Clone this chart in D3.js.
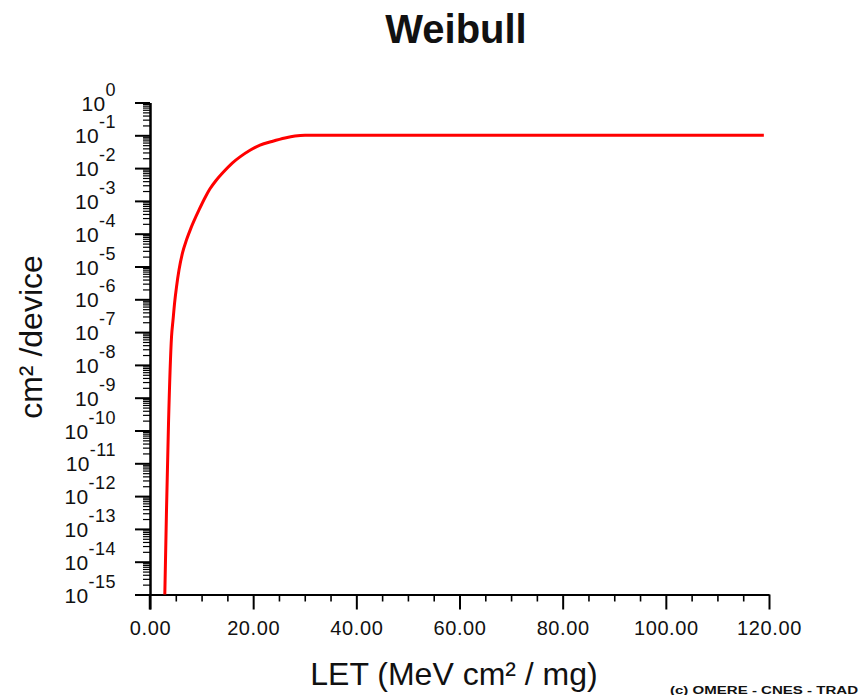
<!DOCTYPE html>
<html>
<head>
<meta charset="utf-8">
<script src="https://cdn.jsdelivr.net/npm/d3@7"></script>
<style>
  html, body { margin: 0; padding: 0; background: #fff; }
  svg { display: block; }
  text { font-family: "Liberation Sans", Arial, sans-serif; fill: #111; }
</style>
</head>
<body>
<svg id="chart" width="859" height="695"></svg>
<script>
// Weibull cross-section curve: LET (MeV cm²/mg) vs cross-section (cm²/device)
const letValues = [2.87, 3.2, 3.59, 4.17, 4.46, 4.77, 5.14, 5.62, 6.3, 7.08, 7.95, 9.5,
                   10.66, 11.6, 12.8, 14.06, 16.0, 17.45, 19.39, 21.33, 23.65, 26.17,
                   28.11, 30.05, 119];
const crossSections = [1e-15, 3.8e-13, 1.7e-10, 7.1e-8, 2.3e-7, 7.8e-7, 2.4e-6, 7.8e-6,
                       2.6e-5, 6.5e-5, 1.5e-4, 5.3e-4, 1.25e-3, 2.3e-3, 4.2e-3, 7.1e-3,
                       1.45e-2, 2.2e-2, 3.5e-2, 5.0e-2, 6.5e-2, 8.3e-2, 9.5e-2, 0.1, 0.1];

const xTickValues = [0, 20, 40, 60, 80, 100, 120];
const xMinorStep = 5;
const yTickExponents = [0, -1, -2, -3, -4, -5, -6, -7, -8, -9, -10, -11, -12, -13, -14, -15];

const titleText = "Weibull";
const xLabelText = "LET (MeV cm\u00B2 / mg)";
const yLabelText = "cm\u00B2 /device";
const creditText = "(c) OMERE - CNES - TRAD";

const svg = d3.select("#chart");

const x = d3.scaleLinear().domain([0, 120]).range([150, 769]);
const y = d3.scaleLog().domain([1e-15, 1]).range([594.5, 102.5]);

// minor ticks
const xMinor = d3.range(0, 120 + 1e-9, xMinorStep).filter(v => v % 20 !== 0);
const yMinor = [];
yTickExponents.slice(1).forEach(e => {
  for (let k = 2; k <= 9; k++) yMinor.push(k * Math.pow(10, e));
});

// x axis
const xAxisG = svg.append("g").attr("transform", `translate(0,${y(1e-15)})`);
xAxisG.append("g")
  .call(d3.axisBottom(x).tickValues(xMinor).tickSize(7).tickSizeOuter(0).tickFormat(""))
  .call(g => g.select(".domain").remove())
  .call(g => g.selectAll(".tick line").attr("stroke", "#000").attr("stroke-width", 1.6));
xAxisG.append("g")
  .call(d3.axisBottom(x).tickValues(xTickValues).tickSize(15).tickSizeOuter(0)
        .tickFormat(d3.format(".2f")))
  .call(g => g.select(".domain").attr("stroke", "#000").attr("stroke-width", 2))
  .call(g => g.selectAll(".tick line").attr("stroke", "#000").attr("stroke-width", 2))
  .call(g => g.selectAll(".tick text")
        .attr("font-size", 20).attr("letter-spacing", "0.6px")
        .attr("fill", "#111").attr("dy", null).attr("y", 40));

// y axis
const yAxisG = svg.append("g").attr("transform", `translate(${x(0)},0)`);
yAxisG.append("g")
  .call(d3.axisLeft(y).tickValues(yMinor).tickSize(7).tickSizeOuter(0).tickFormat(""))
  .call(g => g.select(".domain").remove())
  .call(g => g.selectAll(".tick line").attr("stroke", "#000").attr("stroke-width", 1.2));
yAxisG.append("g")
  .call(d3.axisLeft(y).tickValues(yTickExponents.map(e => Math.pow(10, e)))
        .tickSize(15).tickSizeOuter(0).tickFormat(""))
  .call(g => g.select(".domain").attr("stroke", "#000").attr("stroke-width", 2.5))
  .call(g => g.selectAll(".tick line").attr("stroke", "#000").attr("stroke-width", 2));

// y axis line continues below the x axis
svg.append("line")
  .attr("x1", x(0)).attr("x2", x(0))
  .attr("y1", y(1e-15)).attr("y2", y(1e-15) + 15)
  .attr("stroke", "#000").attr("stroke-width", 2.5);

// y tick labels as powers of ten
const yLabels = svg.append("g");
yTickExponents.forEach(e => {
  const t = yLabels.append("text")
    .attr("x", 116)
    .attr("y", y(Math.pow(10, e)) + 8)
    .attr("text-anchor", "end");
  t.append("tspan").attr("font-size", 21).attr("letter-spacing", "0.3px").text("10");
  t.append("tspan").attr("font-size", 18).attr("letter-spacing", "0.5px")
    .attr("dy", -15).text(String(e));
});

// curve
const pts = letValues.map((l, i) => [l, crossSections[i]]);
svg.append("path")
  .datum(pts)
  .attr("fill", "none")
  .attr("stroke", "#ff0000")
  .attr("stroke-width", 3)
  .attr("stroke-linejoin", "round")
  .attr("d", d3.line().curve(d3.curveMonotoneX).x(d => x(d[0])).y(d => y(d[1])));

// title and axis labels
svg.append("text")
  .attr("x", 456).attr("y", 43)
  .attr("text-anchor", "middle")
  .attr("font-size", 40).attr("font-weight", "bold").attr("fill", "#000")
  .text(titleText);

svg.append("text")
  .attr("x", 454).attr("y", 685)
  .attr("text-anchor", "middle")
  .attr("font-size", 32)
  .text(xLabelText);

svg.append("text")
  .attr("transform", "translate(42,337) rotate(-90)")
  .attr("text-anchor", "middle")
  .attr("font-size", 32)
  .text(yLabelText);

svg.append("text")
  .attr("x", 670).attr("y", 694)
  .attr("font-size", 11).attr("font-weight", "bold")
  .attr("textLength", 188).attr("lengthAdjust", "spacingAndGlyphs")
  .text(creditText);
</script>
</body>
</html>
